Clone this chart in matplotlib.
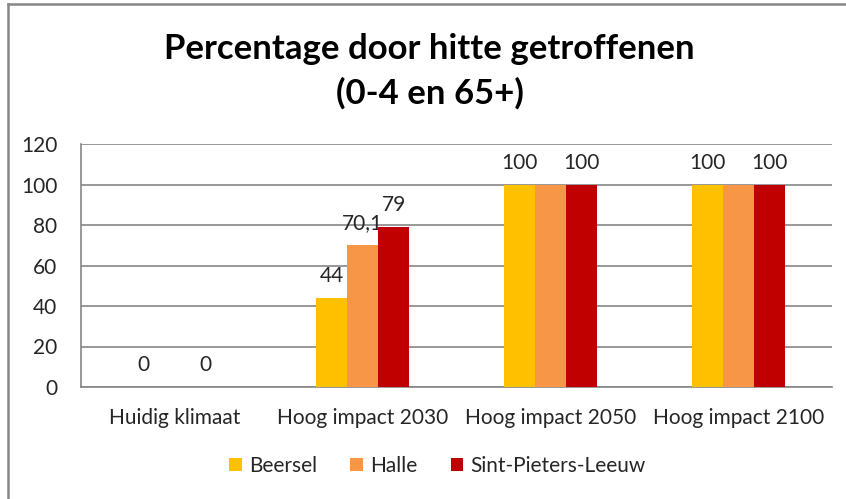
import numpy as np
import matplotlib
matplotlib.use("Agg")
import matplotlib.pyplot as plt
from matplotlib.lines import Line2D

categories = ["Huidig klimaat", "Hoog impact 2030", "Hoog impact 2050", "Hoog impact 2100"]
series_names = ["Beersel", "Halle", "Sint-Pieters-Leeuw"]
beersel = [0, 44, 100, 100]
halle = [np.nan, 70.1, 100, 100]
spl = [0, 79, 100, 100]
beersel_labels = ["0", "44", "100", "100"]
halle_labels = ["", "70,1", "", ""]
spl_labels = ["0", "79", "100", "100"]
yticks = [0, 20, 40, 60, 80, 100, 120]
title = "Percentage door hitte getroffenen\n(0-4 en 65+)"

colors = ["#FFC000", "#F79646", "#C00000"]
font = "Lato"
txtc = "#262626"
fs = 15

W, H = 846, 499
fig = plt.figure(figsize=(W / 100, H / 100), dpi=100)
fig.patch.set_facecolor("white")

# frame on left and top
fig.add_artist(Line2D([8 / W, 8 / W], [0, 1 - 4 / H], color="#868686", lw=1.8, transform=fig.transFigure))
fig.add_artist(Line2D([8 / W, 1], [1 - 4 / H, 1 - 4 / H], color="#868686", lw=1.8, transform=fig.transFigure))

left, right, top, bottom = 81, 832, 144, 387
ax = fig.add_axes([left / W, 1 - bottom / H, (right - left) / W, (bottom - top) / H])

x = np.arange(len(categories))
bw = 0.165
data = [beersel, halle, spl]
labels = [beersel_labels, halle_labels, spl_labels]
for i, (vals, labs, c) in enumerate(zip(data, labels, colors)):
    pos = x + (i - 1) * bw
    ax.bar(pos, vals, width=bw, color=c, zorder=3, label=series_names[i])
    for p, v, lab in zip(pos, vals, labs):
        if lab and not np.isnan(v):
            ax.annotate(lab, (p, v), xytext=(0, 22), textcoords="offset pixels",
                        ha="center", va="center", fontsize=fs, family=font, color=txtc)

ax.set_xlim(-0.5, len(categories) - 0.5)
ax.set_ylim(0, 120)
ax.set_yticks(yticks)
ax.set_yticklabels([str(t) for t in yticks], fontsize=fs, family=font, color=txtc)
ax.set_xticks(x)
ax.set_xticklabels(categories, fontsize=fs, family=font, color=txtc)
ax.tick_params(axis="both", length=0)
ax.tick_params(axis="y", pad=17)
ax.tick_params(axis="x", pad=15)
ax.grid(axis="y", color="#868686", lw=1.2, zorder=0)
for s in ["top", "right"]:
    ax.spines[s].set_visible(False)
ax.spines["left"].set_color("#868686")
ax.spines["bottom"].set_color("#868686")
ax.spines["left"].set_linewidth(1.2)
ax.spines["bottom"].set_linewidth(1.2)

fig.text(0.508, 1 - 71 / H, title, ha="center", va="center", fontsize=25, fontweight="bold",
         family=font, linespacing=1.45)

leg = fig.legend(loc="center", bbox_to_anchor=(0.517, 1 - 466 / H), ncol=3, frameon=False,
                 prop={"family": font, "size": fs}, handlelength=0.6, handleheight=0.6,
                 handletextpad=0.35, columnspacing=1.6)
for t in leg.get_texts():
    t.set_color(txtc)

fig.savefig("out.png", dpi=100)
